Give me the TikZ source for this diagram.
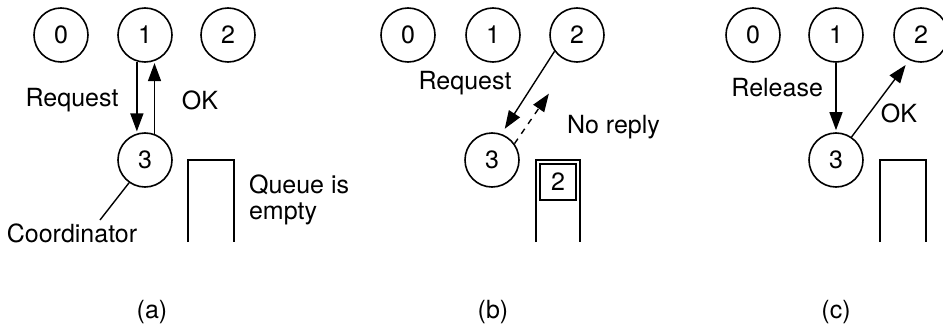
\documentclass[tikz,border=0pt]{standalone}
\usepackage{fontspec}
\setmainfont{TeX Gyre Heros}
\usetikzlibrary{arrows.meta}
\begin{document}
\begin{tikzpicture}[x=0.5pt, y=-0.5pt, >={Triangle[length=9pt,width=6.5pt]}, every node/.style={font=\fontsize{12.5}{13}\selectfont},
  proc/.style={draw, circle, line width=0.8pt, minimum size=27pt, inner sep=0pt},
  msg/.style={->, line width=0.7pt, shorten >=1pt},
  queue/.style={line width=0.7pt}]
\useasboundingbox (0,0) rectangle (943,332);
\node[proc] (n0a) at (61,35) {0};
\node[proc] (n1a) at (145,35) {1};
\node[proc] (n2a) at (228,35) {2};
\node[proc] (n3a) at (145,160) {3};
\draw[msg] (n1a.253) -- (n3a.107);
\draw[msg] (n3a.70) -- (n1a.290);
\node (reqa) at (72,100) {Request};
\node (oka) at (200,100) {OK};
\coordinate (coordend) at (100,220);
\draw[line width=0.7pt] (n3a.235) -- (coordend);
\node (coord) at (72,233) {Coordinator};
\draw[queue] (188,242) -- (188,160) -- (234,160) -- (234,242);
\node[anchor=west, align=left] (emptya) at (242,200) {Queue is\\empty};
\node (capa) at (152,312) {(a)};
\node[proc] (n0b) at (408,35) {0};
\node[proc] (n1b) at (493,35) {1};
\node[proc] (n2b) at (577,35) {2};
\node[proc] (n3b) at (492,160) {3};
\draw[msg, shorten >=3pt] (n2b.216) -- (n3b.70);
\coordinate (noreply) at (550,92);
\draw[msg, dashed] (n3b.36) -- (noreply);
\node (reqb) at (465,83) {Request};
\node[anchor=west] (nrb) at (560,127) {No reply};
\draw[queue] (536,242) -- (536,160) -- (580,160) -- (580,242);
\node[draw, line width=0.9pt, minimum size=18pt, inner sep=0pt] (q2b) at (558,182) {2};
\node (capb) at (493,312) {(b)};
\node[proc] (n0c) at (753,35) {0};
\node[proc] (n1c) at (836,35) {1};
\node[proc] (n2c) at (921,35) {2};
\node[proc] (n3c) at (836,160) {3};
\draw[msg] (n1c) -- (n3c);
\draw[msg, shorten >=3pt] (n3c.56) -- (n2c.245);
\node[anchor=east] (relc) at (830,88) {Release};
\node (okc) at (899,113) {OK};
\draw[queue] (880,242) -- (880,160) -- (926,160) -- (926,242);
\node (capc) at (836,312) {(c)};
\end{tikzpicture}
\end{document}
